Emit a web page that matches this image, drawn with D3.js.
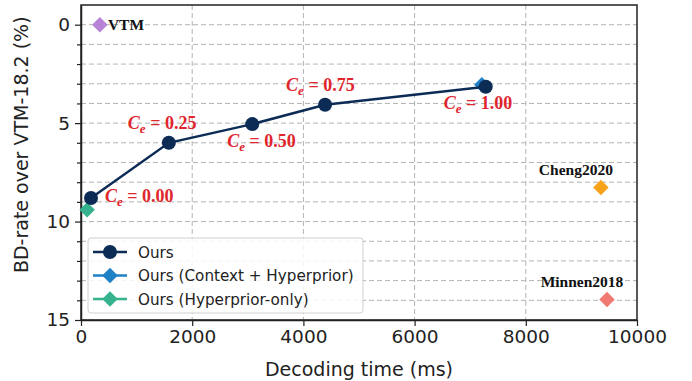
<!DOCTYPE html>
<html>
<head>
<meta charset="utf-8">
<script src="https://cdn.jsdelivr.net/npm/d3@7"></script>
<style>
    body { margin: 0; background: #fff; }
</style>
</head>
<body>
<div id="chart"></div>
<script>
// Ours (varying C_e)
let oursTime = [180, 1580, 3080, 4390, 7280];
let oursBD = [8.8, 6.0, 5.05, 4.07, 3.15];
let ceValues = ["0.00", "0.25", "0.50", "0.75", "1.00"];

// single-point references
let refNames = ["VTM", "Cheng2020", "Minnen2018"];
let refTime = [340, 9350, 9460];
let refBD = [0, 8.27, 13.96];

let ctxTime = [7210];
let ctxBD = [3.05];
let hypTime = [110];
let hypBD = [9.4];

let xTicks = [0, 2000, 4000, 6000, 8000, 10000];
let yTicks = [0, 5, 10, 15];
let legendNames = ["Ours", "Ours (Context + Hyperprior)", "Ours (Hyperprior-only)"];

const colors = {
    ours: "#0c2c55",
    ctx: "#1f80c6",
    hyp: "#36b38e",
    VTM: "#b784d8",
    Cheng2020: "#f8a21a",
    Minnen2018: "#f07a72"
};

const sans = "'DejaVu Sans', sans-serif";
const serif = "'Liberation Serif', serif";

const margin = {top: 5, right: 55, bottom: 61, left: 81};
const width = 692 - margin.left - margin.right;
const height = 381 - margin.top - margin.bottom;

let svg = d3.select("#chart").append("svg")
    .attr("width", 692)
    .attr("height", 381)
    .append("g")
    .attr("transform", `translate(${margin.left},${margin.top})`);

let x = d3.scaleLinear().domain([0, 10000]).range([0, width]);
let y = d3.scaleLinear().domain([-1, 15]).range([0, height]);

// grid lines
let minorY = d3.range(0, 16, 1);
svg.append("g").selectAll("line")
    .data(minorY)
    .join("line")
    .attr("x1", 0).attr("x2", width)
    .attr("y1", d => y(d)).attr("y2", d => y(d))
    .attr("stroke", "#b3b3b3").attr("stroke-width", 1)
    .attr("stroke-dasharray", "5,3");

svg.append("g").selectAll("line")
    .data(xTicks.slice(1, -1))
    .join("line")
    .attr("y1", 0).attr("y2", height)
    .attr("x1", d => x(d)).attr("x2", d => x(d))
    .attr("stroke", "#b3b3b3").attr("stroke-width", 1)
    .attr("stroke-dasharray", "5,3");

// axes
svg.append("g")
    .attr("transform", `translate(0,${height})`)
    .call(d3.axisBottom(x).tickValues(xTicks).tickFormat(d3.format("d")).tickSize(6).tickPadding(4).tickSizeOuter(0));

svg.append("g")
    .call(d3.axisLeft(y).tickValues(yTicks).tickSize(6).tickPadding(5).tickSizeOuter(0));

svg.append("g")
    .call(d3.axisLeft(y).tickValues(minorY.filter(d => d % 5 !== 0)).tickSize(4).tickFormat(""))
    .select(".domain").remove();

svg.selectAll(".domain").attr("stroke", "#222").attr("stroke-width", 1.5);
svg.selectAll(".tick line").attr("stroke", "#222").attr("stroke-width", 1.2);
svg.selectAll(".tick text")
    .style("font-family", sans).style("font-size", "18.5px").style("fill", "#222");

// frame top/right
svg.append("rect")
    .attr("width", width).attr("height", height)
    .attr("fill", "none").attr("stroke", "#222").attr("stroke-width", 1.5);

// axis titles
svg.append("text")
    .style("font-family", sans).style("font-size", "19px").style("fill", "#222")
    .attr("x", width / 2).attr("y", height + 56)
    .attr("text-anchor", "middle")
    .text("Decoding time (ms)");

svg.append("text")
    .style("font-family", sans).style("font-size", "19px").style("fill", "#222")
    .attr("transform", `translate(${-margin.left + 28},${y(6.1)}) rotate(-90)`)
    .attr("text-anchor", "middle")
    .text("BD-rate over VTM-18.2 (%)");

const diamond = d3.symbol().type(d3.symbolSquare).size(120);

function drawDiamond(cx, cy, color) {
    svg.append("path")
        .attr("d", diamond())
        .attr("transform", `translate(${cx},${cy}) rotate(45)`)
        .attr("fill", color);
}

// reference points
refNames.forEach((name, i) => {
    drawDiamond(x(refTime[i]), y(refBD[i]), colors[name]);
});

function refLabel() {
    return svg.append("text")
        .style("font-family", serif).style("font-size", "15.5px")
        .style("font-weight", "bold").style("fill", "#111");
}

refLabel()
    .attr("x", x(refTime[0]) + 8).attr("y", y(refBD[0]) + 5.5)
    .text(refNames[0]);
[1, 2].forEach(i => {
    refLabel()
        .attr("x", x(refTime[i]) - 25).attr("y", y(refBD[i]) - 13)
        .attr("text-anchor", "middle")
        .text(refNames[i]);
});

// ours variants
drawDiamond(x(ctxTime[0]), y(ctxBD[0]), colors.ctx);
drawDiamond(x(hypTime[0]), y(hypBD[0]), colors.hyp);

let oursData = oursTime.map((t, i) => ({t: t, bd: oursBD[i], ce: ceValues[i]}));

svg.append("path")
    .datum(oursData)
    .attr("fill", "none")
    .attr("stroke", colors.ours)
    .attr("stroke-width", 2.5)
    .attr("d", d3.line().x(d => x(d.t)).y(d => y(d.bd)));

svg.selectAll(".ours-pt")
    .data(oursData)
    .join("circle")
    .attr("class", "ours-pt")
    .attr("cx", d => x(d.t)).attr("cy", d => y(d.bd))
    .attr("r", 7)
    .attr("fill", colors.ours);

// C_e labels (pixel offsets from each point)
let labelOffsets = [[14, 4], [-41, -14], [-25, 23], [-39, -14], [-42, 22]];
oursData.forEach((d, i) => {
    let t = svg.append("text")
        .style("font-family", serif).style("font-size", "18px")
        .style("font-weight", "bold").style("fill", "#e0262d")
        .attr("x", x(d.t) + labelOffsets[i][0])
        .attr("y", y(d.bd) + labelOffsets[i][1]);
    t.append("tspan").style("font-style", "italic").text("C");
    t.append("tspan").style("font-style", "italic").style("font-size", "13px").attr("dy", 4).text("e");
    t.append("tspan").attr("dy", -4).text(" = " + d.ce);
});

// legend
let legend = svg.append("g")
    .attr("transform", "translate(7,233)");

legend.append("rect")
    .attr("width", 275).attr("height", 75).attr("rx", 3)
    .attr("fill", "#fff").attr("fill-opacity", 0.85)
    .attr("stroke", "#d0d0d0");

let legendColors = [colors.ours, colors.ctx, colors.hyp];
legendNames.forEach((name, i) => {
    let g = legend.append("g").attr("transform", `translate(0,${14 + i * 23.5})`);
    g.append("line").attr("x1", 5).attr("x2", 39)
        .attr("stroke", legendColors[i]).attr("stroke-width", 2.5);
    if (i === 0) {
        g.append("circle").attr("cx", 22).attr("r", 7).attr("fill", legendColors[i]);
    } else {
        g.append("path").attr("d", diamond())
            .attr("transform", "translate(22,0) rotate(45)")
            .attr("fill", legendColors[i]);
    }
    g.append("text")
        .style("font-family", sans).style("font-size", "15.2px").style("fill", "#222")
        .attr("x", 50).attr("y", 5.5).text(name);
});
</script>
</body>
</html>
